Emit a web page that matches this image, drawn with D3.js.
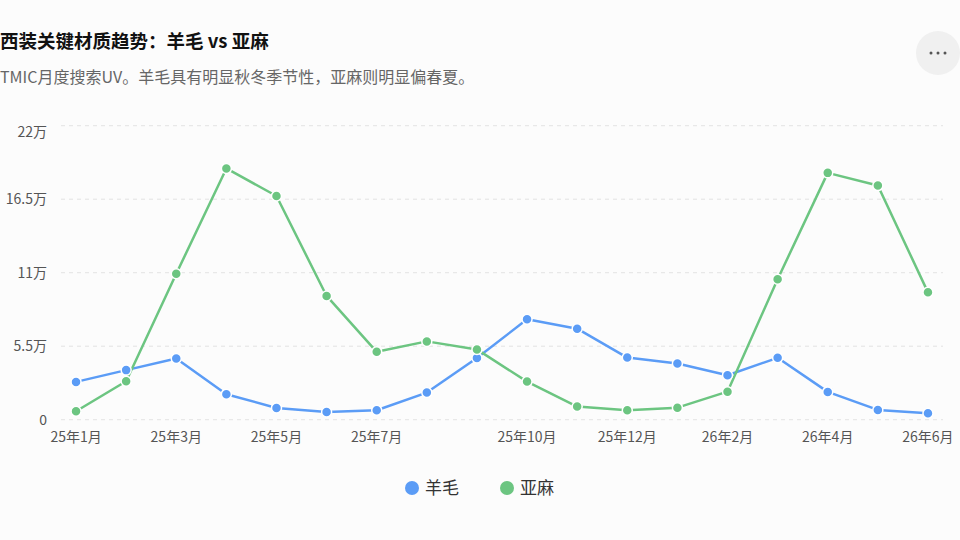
<!DOCTYPE html>
<html>
<head>
<meta charset="utf-8">
<script src="https://cdn.jsdelivr.net/npm/d3@7"></script>
<style>
  body { margin: 0; background: #fcfcfc; font-family: "Noto Sans CJK SC", "Noto Sans", sans-serif; }
  svg text { font-family: "Noto Sans CJK SC", "Noto Sans", sans-serif; }
</style>
</head>
<body>
<svg id="chart"></svg>
<script>
// data
const months = ["25年1月","25年2月","25年3月","25年4月","25年5月","25年6月","25年7月","25年8月","25年9月",
  "25年10月","25年11月","25年12月","26年1月","26年2月","26年3月","26年4月","26年5月","26年6月"];
const shownLabels = ["25年1月","25年3月","25年5月","25年7月","25年10月","25年12月","26年2月","26年4月","26年6月"];
const wool = [2.83, 3.71, 4.58, 1.91, 0.88, 0.58, 0.71, 2.03, 4.62, 7.51, 6.81, 4.65, 4.2, 3.33, 4.63, 2.08, 0.73, 0.48];
const linen = [0.63, 2.88, 10.92, 18.8, 16.74, 9.26, 5.08, 5.86, 5.26, 2.85, 0.98, 0.71, 0.9, 2.1, 10.51, 18.47, 17.52, 9.53];
const yTicks = [0, 5.5, 11, 16.5, 22];
const seriesNames = ["羊毛", "亚麻"];
const colors = ["#5b9cf6", "#6cc581"];

const width = 960, height = 540;
const margin = { left: 61, right: 17, top: 126, bottom: 121 };

const svg = d3.select('svg#chart').attr('width', width).attr('height', height);

svg.append("text").attr("x", 0).attr("y", 48)
  .style("font-size", "18.5px").style("font-weight", "bold").attr("fill", "#111")
  .text("西装关键材质趋势：羊毛 vs 亚麻");
svg.append("text").attr("x", 0).attr("y", 83)
  .style("font-size", "16px").attr("fill", "#666")
  .text("TMIC月度搜索UV。羊毛具有明显秋冬季节性，亚麻则明显偏春夏。");

// more button
svg.append("circle").attr("cx", 938).attr("cy", 53).attr("r", 22).attr("fill", "#f0f0f0");
[-7, 0, 7].forEach(dx => svg.append("circle").attr("cx", 938 + dx).attr("cy", 53).attr("r", 1.5).attr("fill", "#555"));

const x = d3.scalePoint().domain(months).range([margin.left, width - margin.right]).padding(0.3);
const y = d3.scaleLinear().domain([0, 22]).range([height - margin.bottom + 0.7, margin.top - 0.3]);

// grid
svg.append("g").selectAll("line").data(yTicks).enter().append("line")
  .attr("x1", margin.left).attr("x2", width - margin.right)
  .attr("y1", d => y(d)).attr("y2", d => y(d))
  .attr("stroke", "#e3e3e3").attr("stroke-dasharray", "4,4");

// y axis labels (top one pushed down to stay inside)
svg.append("g").selectAll("text").data(yTicks).enter().append("text")
  .attr("x", 47).attr("y", d => y(d) + 5 + (d === 22 ? 6 : 0)).attr("text-anchor", "end")
  .style("font-size", "14px").attr("fill", "#555")
  .text(d => d === 0 ? "0" : d + "万");

// x axis labels
svg.append("g").selectAll("text").data(shownLabels).enter().append("text")
  .attr("x", d => x(d)).attr("y", 442).attr("text-anchor", "middle")
  .style("font-size", "14px").attr("fill", "#555")
  .text(d => d);

const line = d3.line().x((d, i) => x(months[i])).y(d => y(d));

[wool, linen].forEach((s, k) => {
  svg.append("path").datum(s).attr("d", line)
    .attr("fill", "none").attr("stroke", colors[k]).attr("stroke-width", 2.5)
    .attr("stroke-linejoin", "round");
});
[wool, linen].forEach((s, k) => {
  svg.append("g").selectAll("circle").data(s).enter().append("circle")
    .attr("cx", (d, i) => x(months[i])).attr("cy", d => y(d)).attr("r", 5)
    .attr("fill", colors[k]).attr("stroke", "#fff").attr("stroke-width", 1.5);
});

// legend
const legendX = [412, 507];
seriesNames.forEach((n, k) => {
  svg.append("circle").attr("cx", legendX[k]).attr("cy", 488).attr("r", 7).attr("fill", colors[k]);
  svg.append("text").attr("x", legendX[k] + 13).attr("y", 494)
    .style("font-size", "17px").attr("fill", "#333").text(n);
});
</script>
</body>
</html>
